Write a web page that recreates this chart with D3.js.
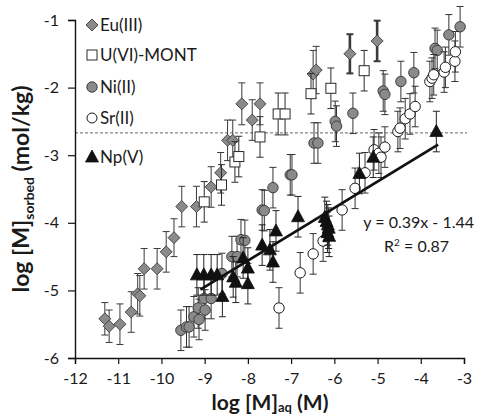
<!DOCTYPE html>
<html>
<head>
<meta charset="utf-8">
<script src="https://cdn.jsdelivr.net/npm/d3@7"></script>
<style>
  html, body { margin: 0; padding: 0; background: #fff; }
  svg text { font-family: Lato, "Open Sans", sans-serif; fill: #1a1a1a; }
</style>
</head>
<body>
<svg id="chart" width="477" height="416"></svg>
<script>
// Sorption data: log [M]aq (M) vs log [M]sorbed (mol/kg)
const xTicks = [-12, -11, -10, -9, -8, -7, -6, -5, -4, -3];
const yTicks = [-6, -5, -4, -3, -2, -1];

const euX = [-11.31, -11.21, -10.96, -10.70, -10.55, -10.50, -10.40, -10.10, -9.89, -9.71, -9.53, -9.19,
             -8.85, -8.63, -8.47, -8.35, -8.14, -7.90, -7.72, -6.49, -6.42, -5.64, -5.01];
const euY = [-5.42, -5.53, -5.50, -5.32, -5.05, -5.08, -4.68, -4.68, -4.43, -4.22, -3.76, -3.76,
             -3.47, -3.26, -2.78, -2.78, -2.24, -2.48, -2.24, -1.80, -1.74, -1.50, -1.31];
const euErr = [0.24, 0.24, 0.3, 0.3, 0.3, 0.3, 0.3, 0.3, 0.3, 0.28, 0.3, 0.3,
               0.3, 0.3, 0.3, 0.3, 0.31, 0.3, 0.31, 0.35, 0.35, 0.29, 0.3];

const uX = [-9.01, -8.61, -8.30, -8.21, -7.72, -7.30, -7.14, -6.54, -6.08, -5.31];
const uY = [-3.69, -3.44, -3.10, -3.02, -2.73, -2.39, -2.39, -2.09, -2.01, -1.75];
const uErr = [0.3, 0.3, 0.3, 0.3, 0.3, 0.31, 0.31, 0.3, 0.3, 0.3];

const niX = [-9.55, -9.42, -9.36, -9.25, -9.13, -9.15, -8.99, -9.01, -8.85, -8.60, -8.37, -8.25, -8.16, -8.07,
             -7.67, -7.62, -7.42, -7.02, -6.98, -6.47, -6.38, -5.98, -5.95, -5.57, -4.87, -4.83, -4.46, -4.16,
             -3.67, -3.62, -3.35, -3.09];
const niY = [-5.59, -5.54, -5.54, -5.39, -5.43, -5.26, -5.29, -5.12, -5.12, -4.75, -4.50, -4.50, -4.25, -4.26,
             -3.81, -3.82, -3.48, -3.29, -3.29, -2.82, -2.82, -2.50, -2.57, -2.38, -2.05, -2.10, -1.91, -1.78,
             -1.42, -1.45, -1.22, -1.10];
const niErr = 0.3;

const srX = [-7.28, -6.79, -6.49, -6.26, -5.82, -5.52, -5.29, -5.08, -4.97, -4.92, -4.83, -4.53, -4.48,
             -4.36, -4.25, -4.13, -3.79, -3.74, -3.70, -3.46, -3.43, -3.21, -3.20];
const srY = [-5.26, -4.74, -4.46, -4.27, -3.81, -3.49, -3.26, -2.92, -2.97, -3.03, -2.88, -2.65, -2.60,
             -2.46, -2.39, -2.28, -1.91, -1.86, -1.81, -1.77, -1.70, -1.61, -1.47];
const srErr = 0.3;

const npX = [-9.18, -9.02, -8.85, -8.71, -8.59, -8.34, -8.28, -8.11, -8.00, -8.00, -7.67, -7.49, -7.42,
             -7.35, -6.84, -6.22, -6.18, -6.15, -6.13, -6.16, -6.12, -5.42, -5.10, -3.64];
const npY = [-4.77, -4.77, -4.77, -4.77, -5.09, -4.80, -4.88, -4.52, -4.67, -4.90, -4.33, -4.40, -4.58,
             -4.12, -3.91, -3.92, -3.98, -4.03, -4.08, -4.14, -4.20, -3.27, -3.03, -2.65];
const npErr = 0.3;

// Linear fit of the Np(V) set
const fitSlope = 0.39, fitIntercept = -1.44, fitR2 = 0.87;
const fitRange = [-9.1, -3.6];
const refLevel = -2.67;

const svg = d3.select("#chart");
const x = d3.scaleLinear().domain([-12, -3]).range([75, 464]);
const y = d3.scaleLinear().domain([-6, -1]).range([358, 20]);

// dashed reference level
svg.append("line")
  .attr("x1", x(-12)).attr("x2", x(-3) + 3)
  .attr("y1", y(refLevel)).attr("y2", y(refLevel))
  .attr("stroke", "#555").attr("stroke-width", 0.9)
  .attr("stroke-dasharray", "3,2");

// axes
const xAxis = svg.append("g").attr("transform", `translate(0,${y(-6)})`)
  .call(d3.axisBottom(x).tickValues(xTicks).tickSize(6).tickPadding(9).tickFormat(d => String(d)));
const yAxis = svg.append("g").attr("transform", `translate(${x(-12)},0)`)
  .call(d3.axisLeft(y).tickValues(yTicks).tickSize(7).tickPadding(9).tickFormat(d => String(d)));
[xAxis, yAxis].forEach(g => {
  g.select(".domain").attr("stroke", "#111").attr("stroke-width", 1.4);
  g.selectAll(".tick line").attr("stroke", "#111").attr("stroke-width", 1.2);
  g.selectAll(".tick text").attr("font-size", 16).attr("fill", "#1a1a1a")
    .style("font-family", "Lato, 'Open Sans', sans-serif");
});

function zip(xs, ys, errs) {
  return xs.map((v, i) => ({ x: v, y: ys[i], e: Array.isArray(errs) ? errs[i] : errs }));
}

const series = [
  { name: "Eu(III)", data: zip(euX, euY, euErr), shape: "diamond", fill: "#8a8a8a", stroke: "#3d3d3d", bar: "#3a3a3a" },
  { name: "U(VI)-MONT", data: zip(uX, uY, uErr), shape: "square", fill: "#ffffff", stroke: "#2a2a2a", bar: "#2a2a2a" },
  { name: "Ni(II)", data: zip(niX, niY, niErr), shape: "circle", fill: "#8a8a8a", stroke: "#3d3d3d", bar: "#333" },
  { name: "Sr(II)", data: zip(srX, srY, srErr), shape: "circleOpen", fill: "#ffffff", stroke: "#1a1a1a", bar: "#333" },
  { name: "Np(V)", data: zip(npX, npY, npErr), shape: "triangle", fill: "#111111", stroke: "#111111", bar: "#222" }
];

function drawMarker(g, shape, cx, cy, s) {
  if (shape === "diamond") {
    g.append("path").attr("d", `M${cx},${cy - 6}L${cx + 6},${cy}L${cx},${cy + 6}L${cx - 6},${cy}Z`)
      .attr("fill", s.fill).attr("stroke", s.stroke).attr("stroke-width", 0.9);
  } else if (shape === "square") {
    g.append("rect").attr("x", cx - 5).attr("y", cy - 5).attr("width", 10).attr("height", 10)
      .attr("fill", s.fill).attr("stroke", s.stroke).attr("stroke-width", 1);
  } else if (shape === "circle" || shape === "circleOpen") {
    g.append("circle").attr("cx", cx).attr("cy", cy).attr("r", 5.2)
      .attr("fill", s.fill).attr("stroke", s.stroke).attr("stroke-width", 1);
  } else if (shape === "triangle") {
    g.append("path").attr("d", `M${cx},${cy - 7}L${cx + 6.5},${cy + 5}L${cx - 6.5},${cy + 5}Z`)
      .attr("fill", s.fill).attr("stroke", s.stroke).attr("stroke-width", 0.8);
  }
}

// heavier error bars on the two highest Eu points
const thickEu = new Set([21, 22]);

series.forEach((s, si) => {
  const g = svg.append("g");
  s.data.forEach((d, i) => {
    const cx = x(d.x), top = y(d.y + d.e), bot = y(d.y - d.e);
    const w = (si === 0 && thickEu.has(i)) ? 2.6 : 1;
    g.append("line").attr("x1", cx).attr("x2", cx).attr("y1", top).attr("y2", bot)
      .attr("stroke", s.bar).attr("stroke-width", w);
    [top, bot].forEach(yy => g.append("line").attr("x1", cx - 3.5).attr("x2", cx + 3.5)
      .attr("y1", yy).attr("y2", yy).attr("stroke", s.bar).attr("stroke-width", w > 1 ? 2 : 1));
  });
  s.data.forEach(d => drawMarker(g, s.shape, x(d.x), y(d.y), s));
});

// trend line
svg.append("line")
  .attr("x1", x(fitRange[0])).attr("y1", y(fitSlope * fitRange[0] + fitIntercept))
  .attr("x2", x(fitRange[1])).attr("y2", y(fitSlope * fitRange[1] + fitIntercept))
  .attr("stroke", "#111").attr("stroke-width", 2.8);

svg.append("text").attr("x", 474).attr("y", 228).attr("text-anchor", "end").attr("font-size", 16)
  .text(`y = ${fitSlope}x - ${Math.abs(fitIntercept).toFixed(2)}`);
const r2 = svg.append("text").attr("x", 449).attr("y", 252).attr("text-anchor", "end").attr("font-size", 16);
r2.append("tspan").text("R");
r2.append("tspan").attr("font-size", 10).attr("dy", -6).text("2");
r2.append("tspan").attr("dy", 6).text(` = ${fitR2}`);

// legend
const legendY = [25, 55, 87, 118, 157];
series.forEach((s, i) => {
  const g = svg.append("g");
  const cy = legendY[i];
  if (s.shape === "square") {
    g.append("rect").attr("x", 87).attr("y", cy - 5).attr("width", 10).attr("height", 10)
      .attr("fill", "#fff").attr("stroke", "#2a2a2a").attr("stroke-width", 1);
  } else if (s.shape === "circleOpen") {
    g.append("circle").attr("cx", 92).attr("cy", cy).attr("r", 5)
      .attr("fill", "#fff").attr("stroke", "#1a1a1a").attr("stroke-width", 1);
  } else {
    drawMarker(g, s.shape, 92, cy, s);
  }
  g.append("text").attr("x", 100).attr("y", cy).attr("dy", "0.36em").attr("font-size", 17).text(s.name);
});

// axis titles
const xt = svg.append("text").attr("x", 270).attr("y", 410).attr("text-anchor", "middle")
  .attr("font-size", 21).attr("font-weight", "bold");
xt.append("tspan").text("log [M]");
xt.append("tspan").attr("font-size", 13).attr("dy", 2).text("aq");
xt.append("tspan").attr("dy", -2).text(" (M)");

const yt = svg.append("text").attr("transform", "translate(29,189) rotate(-90)").attr("text-anchor", "middle")
  .attr("font-size", 23).attr("font-weight", "bold");
yt.append("tspan").text("log [M]");
yt.append("tspan").attr("font-size", 14).attr("dy", 5).text("sorbed");
yt.append("tspan").attr("dy", -5).text(" (mol/kg)");
</script>
</body>
</html>
